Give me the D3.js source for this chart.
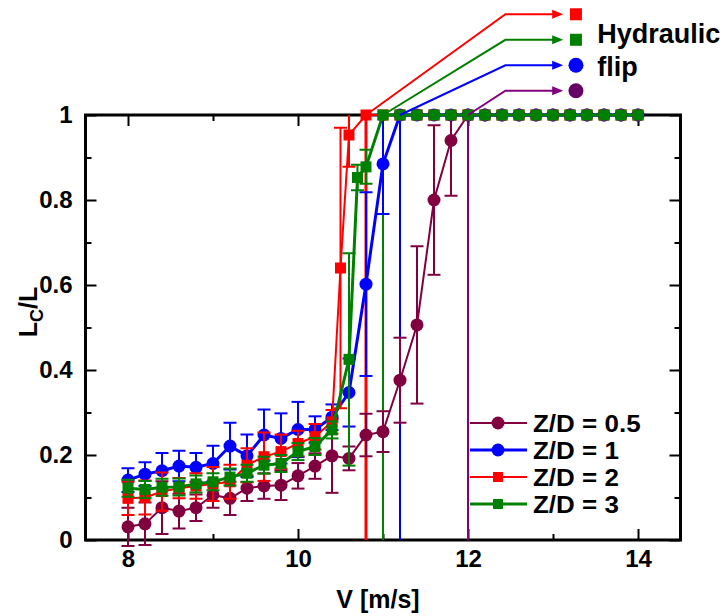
<!DOCTYPE html>
<html>
<head>
<meta charset="utf-8">
<script src="https://cdn.jsdelivr.net/npm/d3@7/dist/d3.min.js"></script>
<style>
  body { margin: 0; background: #fff; }
  svg { display: block; }
  text { font-family: "Liberation Sans", Arial, sans-serif; font-weight: bold; fill: #000; }
</style>
</head>
<body>
<svg id="chart" width="726" height="616"></svg>
<script>
// ---- axis ticks ----
const xMajorTicks = [8, 10, 12, 14];
const xMinorTicks = [9, 11, 13];
const yMajorTicks = [0, 0.2, 0.4, 0.6, 0.8, 1];
const yMinorTicks = [0.1, 0.3, 0.5, 0.7, 0.9];

// ---- series: Z/D = 0.5 ----
const v05 = [8.0, 8.2, 8.4, 8.6, 8.8, 9.0, 9.2, 9.4, 9.6, 9.8, 10.0, 10.2, 10.4, 10.6, 10.8, 11.0, 11.2, 11.4, 11.6, 11.8,
             12.0, 12.2, 12.4, 12.6, 12.8, 13.0, 13.2, 13.4, 13.6, 13.8, 14.0];
const lc05 = [0.031, 0.038, 0.076, 0.068, 0.076, 0.106, 0.098, 0.122, 0.127, 0.129, 0.151, 0.174, 0.198, 0.192, 0.247, 0.255, 0.376, 0.506, 0.800, 0.940,
              1, 1, 1, 1, 1, 1, 1, 1, 1, 1, 1];
const err05 = [0.045, 0.050, 0.062, 0.041, 0.031, 0.030, 0.039, 0.030, 0.030, 0.035, 0.030, 0.030, 0.087, 0.028, 0.050, 0.048, 0.100, 0.185, 0.176, 0.130,
               0, 0, 0, 0, 0, 0, 0, 0, 0, 0, 0];

// ---- series: Z/D = 1 ----
const v1 = [8.0, 8.2, 8.4, 8.6, 8.8, 9.0, 9.2, 9.4, 9.6, 9.8, 10.0, 10.2, 10.4, 10.6, 10.8, 11.0, 11.2, 11.4, 11.6, 11.8,
            12.0, 12.2, 12.4, 12.6, 12.8, 13.0, 13.2, 13.4, 13.6, 13.8, 14.0];
const lc1 = [0.141, 0.155, 0.163, 0.174, 0.171, 0.180, 0.221, 0.198, 0.247, 0.239, 0.260, 0.260, 0.289, 0.347, 0.602, 0.885, 1, 1, 1, 1,
             1, 1, 1, 1, 1, 1, 1, 1, 1, 1, 1];
const err1 = [0.028, 0.028, 0.042, 0.036, 0.034, 0.042, 0.055, 0.050, 0.060, 0.059, 0.065, 0.031, 0.030, 0.080, 0.216, 0.118, 0, 0, 0, 0,
              0, 0, 0, 0, 0, 0, 0, 0, 0, 0, 0];

// ---- series: Z/D = 2 ----
const v2 = [8.0, 8.2, 8.4, 8.6, 8.8, 9.0, 9.2, 9.4, 9.6, 9.8, 10.0, 10.2, 10.4, 10.5, 10.6, 10.8, 11.0, 11.2, 11.4, 11.6, 11.8,
            12.0, 12.2, 12.4, 12.6, 12.8, 13.0, 13.2, 13.4, 13.6, 13.8, 14.0];
const lc2 = [0.098, 0.100, 0.114, 0.122, 0.127, 0.132, 0.137, 0.176, 0.196, 0.208, 0.227, 0.243, 0.278, 0.640, 0.953, 1, 1, 1, 1, 1, 1,
             1, 1, 1, 1, 1, 1, 1, 1, 1, 1, 1];
const err2 = [0.039, 0.040, 0.045, 0.024, 0.030, 0.040, 0.040, 0.040, 0.057, 0.040, 0.030, 0.030, 0.028, 0.330, 0.075, 0, 0, 0, 0, 0, 0,
              0, 0, 0, 0, 0, 0, 0, 0, 0, 0, 0];

// ---- series: Z/D = 3 ----
const v3 = [8.0, 8.2, 8.4, 8.6, 8.8, 9.0, 9.2, 9.4, 9.6, 9.8, 10.0, 10.2, 10.4, 10.6, 10.7, 10.8, 11.0, 11.2, 11.4, 11.6, 11.8,
            12.0, 12.2, 12.4, 12.6, 12.8, 13.0, 13.2, 13.4, 13.6, 13.8, 14.0];
const lc3 = [0.122, 0.119, 0.124, 0.125, 0.132, 0.137, 0.148, 0.157, 0.176, 0.180, 0.208, 0.220, 0.259, 0.425, 0.853, 0.878, 1, 1, 1, 1, 1,
             1, 1, 1, 1, 1, 1, 1, 1, 1, 1, 1];
const err3 = [0.020, 0.020, 0.020, 0.020, 0.020, 0.020, 0.020, 0.020, 0.020, 0.020, 0.020, 0.020, 0.020, 0.250, 0.030, 0.040, 0, 0, 0, 0, 0,
              0, 0, 0, 0, 0, 0, 0, 0, 0, 0, 0];

const seriesNames  = ["Z/D = 0.5", "Z/D = 1", "Z/D = 2", "Z/D = 3"];
const seriesColors = ["#800040", "#0000ff", "#ff0000", "#008000"];
const seriesShapes = ["circle", "circle", "square", "square"];
const seriesWidths = [2, 3, 2, 3];

// ---- hydraulic flip onset velocities ----
const flipVelocity = [10.8, 11.0, 11.2, 12.0];
const flipColors   = ["#ff0000", "#008000", "#0000ff", "#800080"];
const flipMarkColors = ["#ff0000", "#008000", "#0000ff", "#660066"];
const flipShapes   = ["square", "square", "circle", "circle"];
const flipLineWidths = [3, 2, 2, 2];
const flipRowLevel = [1.237, 1.177, 1.117, 1.057];   // callout rows above the frame, in L_C/L units
const flipLabelLines = ["Hydraulic", "flip"];

const svg = d3.select("#chart");
const x = d3.scaleLinear().domain([7.5, 14.5]).range([85.5, 680.5]);
const y = d3.scaleLinear().domain([0, 1]).range([540, 115]);

const seriesData = [
  { v: v05, lc: lc05, err: err05 },
  { v: v1,  lc: lc1,  err: err1  },
  { v: v2,  lc: lc2,  err: err2  },
  { v: v3,  lc: lc3,  err: err3  }
].map((s, i) => ({
  name: seriesNames[i], color: seriesColors[i], shape: seriesShapes[i], width: seriesWidths[i],
  points: s.v.map((vv, j) => ({ v: vv, lc: s.lc[j], err: s.err[j] }))
}));

// error bars are clipped at the top of the frame
svg.append("defs").append("clipPath").attr("id", "plot-clip")
  .append("rect")
  .attr("x", x(7.5)).attr("y", y(1))
  .attr("width", x(14.5) - x(7.5)).attr("height", 616 - y(1));

// ---- axes (ticks point inward on all four sides) ----
function styleAxis(g) {
  g.select(".domain").remove();
  g.selectAll(".tick line").attr("stroke", "#000").attr("stroke-width", 2);
  g.selectAll(".tick text").style("font-size", "24px").attr("fill", "#000");
}
const fmt = d => String(d);

svg.append("g").attr("transform", `translate(0,${y(0)})`)
  .call(d3.axisBottom(x).tickValues(xMajorTicks).tickFormat(fmt).tickSizeInner(-11).tickSizeOuter(0).tickPadding(10))
  .call(styleAxis);
svg.append("g").attr("transform", `translate(0,${y(0)})`)
  .call(d3.axisBottom(x).tickValues(xMinorTicks).tickFormat("").tickSizeInner(-6).tickSizeOuter(0))
  .call(styleAxis);
svg.append("g").attr("transform", `translate(0,${y(1)})`)
  .call(d3.axisTop(x).tickValues(xMajorTicks).tickFormat("").tickSizeInner(-11).tickSizeOuter(0))
  .call(styleAxis);
svg.append("g").attr("transform", `translate(0,${y(1)})`)
  .call(d3.axisTop(x).tickValues(xMinorTicks).tickFormat("").tickSizeInner(-6).tickSizeOuter(0))
  .call(styleAxis);
svg.append("g").attr("transform", `translate(${x(7.5)},0)`)
  .call(d3.axisLeft(y).tickValues(yMajorTicks).tickFormat(fmt).tickSizeInner(-11).tickSizeOuter(0).tickPadding(13))
  .call(styleAxis);
svg.append("g").attr("transform", `translate(${x(7.5)},0)`)
  .call(d3.axisLeft(y).tickValues(yMinorTicks).tickFormat("").tickSizeInner(-6).tickSizeOuter(0))
  .call(styleAxis);
svg.append("g").attr("transform", `translate(${x(14.5)},0)`)
  .call(d3.axisRight(y).tickValues(yMajorTicks).tickFormat("").tickSizeInner(-11).tickSizeOuter(0))
  .call(styleAxis);
svg.append("g").attr("transform", `translate(${x(14.5)},0)`)
  .call(d3.axisRight(y).tickValues(yMinorTicks).tickFormat("").tickSizeInner(-6).tickSizeOuter(0))
  .call(styleAxis);

// frame
svg.append("rect")
  .attr("x", x(7.5)).attr("y", y(1))
  .attr("width", x(14.5) - x(7.5)).attr("height", y(0) - y(1))
  .attr("fill", "none").attr("stroke", "#000").attr("stroke-width", 3);

// axis titles
svg.append("text")
  .attr("x", (x(7.5) + x(14.5)) / 2 - 5).attr("y", 608)
  .attr("text-anchor", "middle").style("font-size", "25px")
  .text("V [m/s]");
const yTitle = svg.append("text")
  .attr("transform", `translate(37,312) rotate(-90)`)
  .attr("text-anchor", "middle").style("font-size", "25px");
yTitle.append("tspan").text("L");
yTitle.append("tspan").attr("dy", 6).style("font-size", "18px").text("C");
yTitle.append("tspan").attr("dy", -6).text("/L");

// ---- flip onset vertical lines ----
svg.append("g").selectAll("line").data(flipVelocity).join("line")
  .attr("x1", d => x(d)).attr("x2", d => x(d))
  .attr("y1", y(0)).attr("y2", y(1))
  .attr("stroke", (d, i) => flipColors[i])
  .attr("stroke-width", (d, i) => flipLineWidths[i]);

// marker helper
function drawMarker(g, shape, cx, cy, color, size) {
  if (shape === "circle") {
    g.append("circle").attr("cx", cx).attr("cy", cy).attr("r", size / 2).attr("fill", color);
  } else {
    g.append("rect").attr("x", cx - size / 2 + 0.5).attr("y", cy - size / 2 + 0.5)
      .attr("width", size - 1).attr("height", size - 1).attr("fill", color);
  }
}

// ---- series ----
const line = d3.line().x(d => x(d.v)).y(d => y(d.lc));
seriesData.forEach(s => {
  const g = svg.append("g");
  g.append("path").datum(s.points).attr("d", line)
    .attr("fill", "none").attr("stroke", s.color).attr("stroke-width", s.width);
  const eb = g.append("g").attr("stroke", s.color).attr("stroke-width", 2).attr("clip-path", "url(#plot-clip)");
  s.points.filter(p => p.err > 0).forEach(p => {
    const px = x(p.v), top = y(p.lc + p.err), bot = y(p.lc - p.err);
    eb.append("line").attr("x1", px).attr("x2", px).attr("y1", top).attr("y2", bot);
    eb.append("line").attr("x1", px - 6.5).attr("x2", px + 6.5).attr("y1", top).attr("y2", top);
    eb.append("line").attr("x1", px - 6.5).attr("x2", px + 6.5).attr("y1", bot).attr("y2", bot);
  });
  const mg = g.append("g");
  s.points.forEach(p => drawMarker(mg, s.shape, x(p.v), y(p.lc), s.color, s.shape === "circle" ? 13 : 12));
});

// ---- hydraulic flip callouts ----
const elbowX = x(12.44), tipX = x(13.12), markX = x(13.27);
flipVelocity.forEach((v, i) => {
  const ry = y(flipRowLevel[i]);
  svg.append("path")
    .attr("d", `M${x(v)},${y(1)} L${elbowX},${ry} L${tipX - 10},${ry}`)
    .attr("fill", "none").attr("stroke", flipColors[i]).attr("stroke-width", 2);
  svg.append("path")
    .attr("d", `M${tipX},${ry} L${tipX - 11},${ry - 4.5} L${tipX - 11},${ry + 4.5} Z`)
    .attr("fill", flipColors[i]);
  drawMarker(svg, flipShapes[i], markX, ry, flipMarkColors[i], flipShapes[i] === "circle" ? 15 : 13);
});
svg.append("text").attr("x", x(13.52)).attr("y", 43).style("font-size", "27px").text(flipLabelLines[0]);
svg.append("text").attr("x", x(13.52)).attr("y", 76).style("font-size", "27px").text(flipLabelLines[1]);

// ---- legend ----
const legend = svg.append("g");
const legendRowY = [423, 450, 477, 504];
seriesData.forEach((s, i) => {
  const ly = legendRowY[i];
  legend.append("line").attr("x1", 470).attr("x2", 527).attr("y1", ly).attr("y2", ly)
    .attr("stroke", s.color).attr("stroke-width", s.width);
  drawMarker(legend, s.shape, 498, ly, s.color, s.shape === "circle" ? 13 : 11);
  legend.append("text")
    .attr("transform", `translate(533,${ly + 8.5}) scale(1.13,1)`)
    .style("font-size", "23px").text(s.name);
});
</script>
</body>
</html>
